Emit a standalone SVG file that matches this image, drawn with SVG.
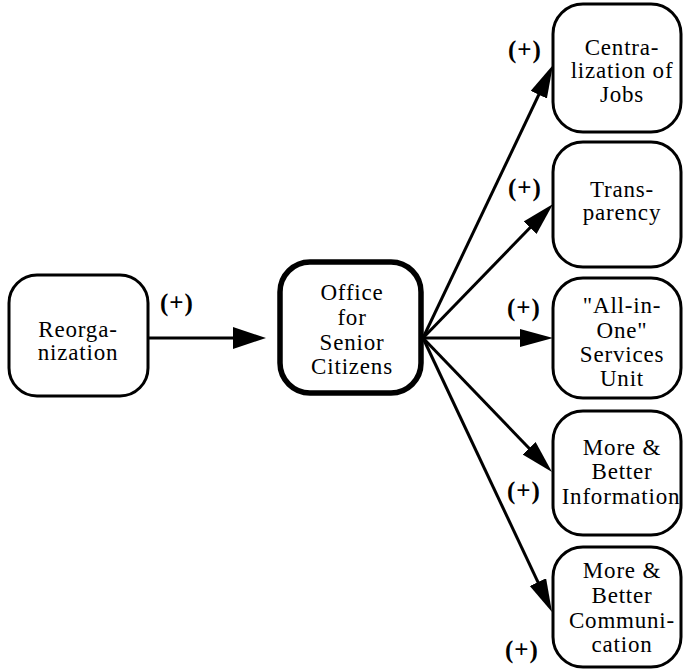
<svg xmlns="http://www.w3.org/2000/svg" width="683" height="670" viewBox="0 0 683 670">
<style>
  .box { fill: #fff; stroke: #000; stroke-width: 3; }
  .main { fill: #fff; stroke: #000; stroke-width: 5.5; }
  .t { font-family: "Liberation Serif", "Times New Roman", serif; font-size: 23px; letter-spacing: 0.8px; text-anchor: middle; fill: #000; }
  .lbl { font-family: "Liberation Serif", "Times New Roman", serif; font-size: 25px; font-weight: bold; letter-spacing: 1px; fill: #000; }
  .edge { stroke: #000; stroke-width: 3; fill: none; }
</style>
<defs>
  <marker id="arr" markerUnits="userSpaceOnUse" markerWidth="34" markerHeight="20" refX="18" refY="9" orient="auto">
    <path d="M0,0 L33,9 L0,18 z" fill="#000"/>
  </marker>
  <marker id="arrL" markerUnits="userSpaceOnUse" markerWidth="34" markerHeight="24" refX="18" refY="11" orient="auto">
    <path d="M0,0 L33,11 L0,22 z" fill="#000"/>
  </marker>
</defs>
<rect width="683" height="670" fill="#fff"/>
<g id="connectors">
  <line class="edge" x1="148" y1="338" x2="251" y2="338" marker-end="url(#arrL)"/>
  <line class="edge" x1="423" y1="338" x2="546.5" y2="78.5" marker-end="url(#arr)"/>
  <line class="edge" x1="423" y1="338" x2="542.6" y2="214.8" marker-end="url(#arr)"/>
  <line class="edge" x1="423" y1="338" x2="538" y2="338" marker-end="url(#arr)"/>
  <line class="edge" x1="423" y1="338" x2="541.6" y2="461.2" marker-end="url(#arr)"/>
  <line class="edge" x1="423" y1="338" x2="545.6" y2="598.4" marker-end="url(#arr)"/>
  <text class="lbl" x="160" y="311">(+)</text>
  <text class="lbl" x="508" y="58">(+)</text>
  <text class="lbl" x="508" y="196">(+)</text>
  <text class="lbl" x="507" y="316">(+)</text>
  <text class="lbl" x="507" y="499">(+)</text>
  <text class="lbl" x="505" y="658">(+)</text>
</g>
<g id="reorganization">
  <rect class="box" x="9" y="275" width="139" height="121" rx="28"/>
  <text class="t" x="78" y="337">Reorga-</text>
  <text class="t" x="78" y="360">nization</text>
</g>
<g id="office">
  <rect class="main" x="280" y="262" width="141" height="131" rx="30"/>
  <text class="t" x="352" y="300">Office</text>
  <text class="t" x="352" y="325">for</text>
  <text class="t" x="352" y="350">Senior</text>
  <text class="t" x="352" y="374">Citizens</text>
</g>
<g id="centralization">
  <rect class="box" x="553" y="4" width="128" height="128" rx="30"/>
  <text class="t" x="622" y="55">Centra-</text>
  <text class="t" x="622" y="78">lization of</text>
  <text class="t" x="622" y="102">Jobs</text>
</g>
<g id="transparency">
  <rect class="box" x="553" y="142" width="128" height="125" rx="30"/>
  <text class="t" x="622" y="197">Trans-</text>
  <text class="t" x="622" y="220">parency</text>
</g>
<g id="allinone">
  <rect class="box" x="553" y="278" width="128" height="120" rx="30"/>
  <text class="t" x="622" y="313">"All-in-</text>
  <text class="t" x="622" y="338">One"</text>
  <text class="t" x="622" y="362">Services</text>
  <text class="t" x="622" y="386">Unit</text>
</g>
<g id="information">
  <rect class="box" x="553" y="411" width="128" height="124" rx="30"/>
  <text class="t" x="622" y="455">More &amp;</text>
  <text class="t" x="622" y="479">Better</text>
  <text class="t" x="621" y="504">Information</text>
</g>
<g id="communication">
  <rect class="box" x="553" y="547" width="128" height="120" rx="30"/>
  <text class="t" x="622" y="578">More &amp;</text>
  <text class="t" x="622" y="603">Better</text>
  <text class="t" x="622" y="628">Communi-</text>
  <text class="t" x="622" y="652">cation</text>
</g>
</svg>
